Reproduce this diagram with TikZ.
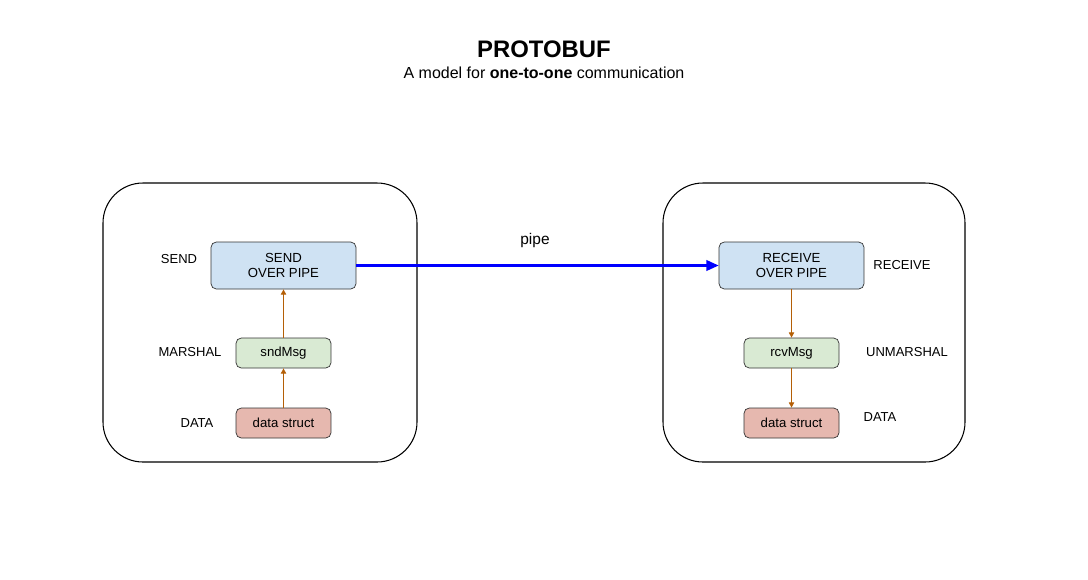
\documentclass[tikz,border=0pt]{standalone}
\usepackage{fontspec}
\setmainfont{Liberation Sans}
\usetikzlibrary{arrows.meta}
\definecolor{pipeblue}{HTML}{CFE2F3}
\definecolor{msggreen}{HTML}{D9EAD3}
\definecolor{datared}{HTML}{E6B8AF}
\definecolor{flowbrown}{HTML}{B45F06}
\definecolor{linkblue}{HTML}{0000FF}
\tikzset{
  host/.style={draw=black, rounded corners=0.8cm, line width=0.6pt},
  pipebox/.style={draw=black!80, fill=pipeblue, rounded corners=3pt, minimum width=2.9cm, minimum height=0.94cm, align=center, font=\fontsize{7.5}{8.8}\selectfont, inner sep=0pt},
  msgbox/.style={draw=black!80, fill=msggreen, rounded corners=3pt, minimum width=1.9cm, minimum height=0.6cm, font=\fontsize{7.5}{8.8}\selectfont, inner sep=0pt},
  databox/.style={draw=black!80, fill=datared, rounded corners=3pt, minimum width=1.9cm, minimum height=0.6cm, font=\fontsize{7.5}{8.8}\selectfont, inner sep=0pt},
  tag/.style={font=\fontsize{7.4}{8.8}\selectfont, inner sep=0pt},
  flow/.style={-{Triangle[length=3pt, width=3pt]}, draw=flowbrown, line width=0.5pt}
}
\begin{document}
\begin{tikzpicture}[x=0.02cm, y=-0.02cm]
  \useasboundingbox[fill=white] (0,0) rectangle (1088,579);

  % heading
  \node[font=\bfseries\fontsize{13.6}{16}\selectfont, inner sep=0pt] (title) at (544,49) {PROTOBUF};
  \node[font=\fontsize{9.1}{11}\selectfont, inner sep=0pt] (subtitle) at (544,73) {A model for \textbf{one-to-one} communication};

  % sender side
  \draw[host] (103,183) rectangle (417,462);
  \node[pipebox] (send) at (283.5,265.5) {SEND\\OVER PIPE};
  \node[msgbox] (snd) at (283.5,353) {sndMsg};
  \node[databox] (sdata) at (283.5,423) {data struct};
  \node[tag] (lsend) at (179,259) {SEND};
  \node[tag] (lmarshal) at (190,352) {MARSHAL};
  \node[tag] (lsdata) at (197,423) {DATA};
  \draw[flow] (sdata) -- (snd);
  \draw[flow] (snd) -- (send);

  % receiver side
  \draw[host] (663,183) rectangle (965,462);
  \node[pipebox] (recv) at (791.5,265.5) {RECEIVE\\OVER PIPE};
  \node[msgbox] (rcv) at (791.5,353) {rcvMsg};
  \node[databox] (rdata) at (791.5,423) {data struct};
  \node[tag] (lrecv) at (902,265) {RECEIVE};
  \node[tag] (lunmarshal) at (907,352) {UNMARSHAL};
  \node[tag] (lrdata) at (880,417) {DATA};
  \draw[flow] (recv) -- (rcv);
  \draw[flow] (rcv) -- (rdata);

  % pipe
  \draw[-{Triangle[length=7pt, width=6pt]}, color=linkblue, line width=1.2pt] (send) -- (recv);
  \node[font=\fontsize{8.8}{10}\selectfont, inner sep=0pt] (pipe) at (535,240) {pipe};
\end{tikzpicture}
\end{document}
